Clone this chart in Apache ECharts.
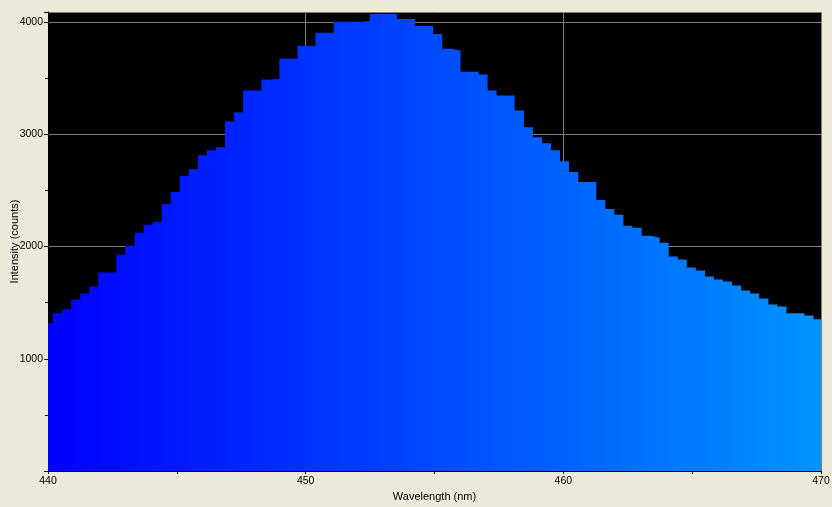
<!DOCTYPE html>
<html>
<head>
<meta charset="utf-8">
<script src="https://cdn.jsdelivr.net/npm/echarts@6/dist/echarts.min.js"></script>
<style>
  html, body { margin: 0; padding: 0; background: #ECE9D8; }
  #chart { width: 832px; height: 507px; }
</style>
</head>
<body>
<div id="chart"></div>
<script>
// Left edges of each spectrometer bin (nm); last entry is the right edge of the final bin
var binEdges = [439.84, 440.19, 440.55, 440.90, 441.25, 441.60, 441.95, 442.31, 442.65, 443.00,
  443.36, 443.71, 444.06, 444.41, 444.76, 445.11, 445.46, 445.82, 446.17, 446.52,
  446.87, 447.22, 447.57, 447.92, 448.28, 448.63, 448.98, 449.33, 449.68, 450.03,
  450.38, 450.74, 451.09, 451.44, 451.79, 452.14, 452.49, 452.84, 453.20, 453.55,
  453.90, 454.25, 454.60, 454.95, 455.30, 455.66, 456.01, 456.36, 456.71, 457.06,
  457.41, 457.76, 458.11, 458.47, 458.82, 459.17, 459.52, 459.87, 460.22, 460.58,
  460.93, 461.28, 461.63, 461.98, 462.33, 462.68, 463.04, 463.39, 463.74, 464.09,
  464.44, 464.79, 465.14, 465.50, 465.85, 466.20, 466.55, 466.90, 467.25, 467.60,
  467.96, 468.31, 468.66, 469.01, 469.36, 469.71, 470.06];

// Intensity (counts) of each bin
var intensity = [1316, 1405, 1441, 1529, 1582, 1644, 1769, 1769, 1928, 2008,
  2124, 2194, 2221, 2380, 2487, 2629, 2691, 2815, 2859, 2886,
  3116, 3196, 3391, 3391, 3489, 3497, 3675, 3675, 3790, 3790,
  3905, 3905, 4003, 4003, 4003, 4011, 4073, 4073, 4073, 4029,
  4029, 3967, 3967, 3896, 3763, 3746, 3559, 3559, 3533, 3391,
  3347, 3347, 3214, 3063, 2975, 2921, 2859, 2761, 2664, 2575,
  2575, 2416, 2336, 2283, 2186, 2168, 2097, 2080, 2035, 1911,
  1884, 1813, 1786, 1733, 1707, 1689, 1653, 1609, 1582, 1538,
  1485, 1467, 1405, 1405, 1387, 1352];

var xTickLabels = [440, 450, 460, 470];
var yTickLabels = [1000, 2000, 3000, 4000];

var stepData = [];
for (var i = 0; i < intensity.length; i++) {
  stepData.push([binEdges[i], intensity[i]]);
}
stepData.push([binEdges[intensity.length], intensity[intensity.length - 1]]);

var chart = echarts.init(document.getElementById('chart'), null, { renderer: 'canvas' });

var labelFont = { color: '#000', fontFamily: 'Liberation Sans, Arial, sans-serif', fontSize: 10.5 };

chart.setOption({
  animation: false,
  backgroundColor: '#ECE9D8',
  grid: {
    left: 48, right: 11, top: 12, bottom: 36,
    containLabel: false,
    outerBoundsMode: 'none',
    show: true, backgroundColor: '#000000', borderWidth: 0
  },
  xAxis: {
    type: 'value',
    min: 440, max: 470, interval: 10,
    name: 'Wavelength (nm)',
    nameLocation: 'middle',
    nameGap: 20,
    nameMoveOverlap: false,
    nameTextStyle: { color: '#000', fontFamily: 'Liberation Sans, Arial, sans-serif', fontSize: 11 },
    axisLine: { show: true, lineStyle: { color: '#000', width: 1 } },
    axisTick: { show: true, length: 3, lineStyle: { color: '#000' } },
    minorTick: { show: true, splitNumber: 2, length: 3, lineStyle: { color: '#000' } },
    axisLabel: Object.assign({
      margin: 5,
      formatter: function (v) { return xTickLabels.indexOf(v) >= 0 ? String(v) : ''; }
    }, labelFont),
    splitLine: { show: true, lineStyle: { color: '#808080', width: 1 } }
  },
  yAxis: {
    type: 'value',
    min: 0, max: 4091, interval: 1000,
    name: 'Intensity (counts)',
    nameLocation: 'middle',
    nameGap: 28,
    nameMoveOverlap: false,
    nameTextStyle: { color: '#000', fontFamily: 'Liberation Sans, Arial, sans-serif', fontSize: 11 },
    axisLine: { show: true, lineStyle: { color: '#000', width: 1 } },
    axisTick: { show: true, length: 4, lineStyle: { color: '#000' } },
    minorTick: { show: true, splitNumber: 2, length: 3, lineStyle: { color: '#000' } },
    axisLabel: Object.assign({
      margin: 5,
      showMaxLabel: false,
      formatter: function (v) { return yTickLabels.indexOf(v) >= 0 ? String(v) : ''; }
    }, labelFont),
    splitLine: { show: true, lineStyle: { color: '#808080', width: 1 } }
  },
  series: [{
    type: 'line',
    step: 'end',
    data: stepData,
    showSymbol: false,
    symbol: 'none',
    clip: true,
    lineStyle: { width: 0, opacity: 0 },
    areaStyle: {
      opacity: 1,
      color: new echarts.graphic.LinearGradient(48, 0, 821, 0, [
        { offset: 0, color: '#0000FF' },
        { offset: 1, color: '#0094FF' }
      ], true)
    }
  }]
});
</script>
</body>
</html>
